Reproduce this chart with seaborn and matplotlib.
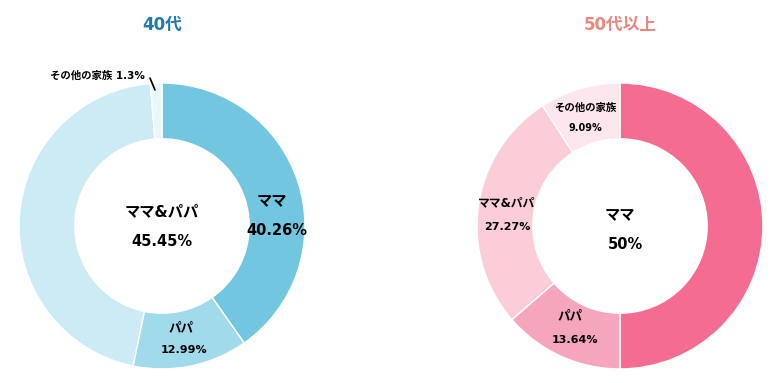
import seaborn as sns
import matplotlib.pyplot as plt

sns.set_theme(style='white')
# DejaVu para números (parecido com Verdana/Meiryo), Noto CJK para japonês
plt.rcParams['font.family'] = ['DejaVu Sans', 'Noto Sans CJK JP']

# Dados
categorias = ['ママ', 'パパ', 'ママ&パパ', 'その他の家族']
valores_40 = [40.26, 12.99, 45.45, 1.3]
valores_50 = [50, 13.64, 27.27, 9.09]
rotulos_40 = ['40.26%', '12.99%', '45.45%', '1.3%']
rotulos_50 = ['50%', '13.64%', '27.27%', '9.09%']
titulos = ['40代', '50代以上']

cores_40 = ['#72c6e0', '#a1daea', '#cdebf4', '#e9f6fa']
cores_50 = ['#f46c92', '#f6a6bc', '#facdd9', '#fde6ed']
cor_titulo = ['#1d7bad', '#ea8880']

fig = plt.figure(figsize=(7.77, 3.83), dpi=100)
ax1 = fig.add_axes([0.0245, 0.0366, 0.368, 0.7467])
ax2 = fig.add_axes([0.6139, 0.0366, 0.368, 0.7467])

for ax, valores, cores in [(ax1, valores_40, cores_40), (ax2, valores_50, cores_50)]:
    ax.pie(valores, colors=cores, startangle=90, counterclock=False,
           wedgeprops=dict(width=0.39, edgecolor='white', linewidth=1))
    ax.set_xlim(-1, 1)
    ax.set_ylim(-1, 1)
    ax.set_aspect('equal')
    ax.axis('off')

# Títulos
fig.text(162 / 777, 1 - 25 / 383, titulos[0], color=cor_titulo[0], fontsize=12,
         fontweight='bold', ha='center', va='center')
fig.text(620 / 777, 1 - 25 / 383, titulos[1], color=cor_titulo[1], fontsize=12,
         fontweight='bold', ha='center', va='center')

# Rótulos - 40代
t = dict(ha='center', va='center', fontweight='bold', color='black')
ax1.text(0.77, 0.18, categorias[0], fontsize=11, **t)
ax1.text(0.80, -0.035, rotulos_40[0], fontsize=10.5, **t)
ax1.text(0.13, -0.71, categorias[1], fontsize=9, **t)
ax1.text(0.155, -0.865, rotulos_40[1], fontsize=8, **t)
ax1.text(0.0, 0.10, categorias[2], fontsize=11, **t)
ax1.text(0.0, -0.11, rotulos_40[2], fontsize=10.5, **t)
ax1.text(-0.455, 1.05, categorias[3] + ' ' + rotulos_40[3], fontsize=7.5, **t)
ax1.plot([-0.084, -0.049], [1.035, 0.951], color='black', lw=1.2, clip_on=False)

# Rótulos - 50代以上
ax2.text(0.0, 0.08, categorias[0], fontsize=11, **t)
ax2.text(0.035, -0.13, rotulos_50[0], fontsize=10.5, **t)
ax2.text(-0.35, -0.63, categorias[1], fontsize=9, **t)
ax2.text(-0.315, -0.80, rotulos_50[1], fontsize=8, **t)
ax2.text(-0.79, 0.16, categorias[2], fontsize=8.5, **t)
ax2.text(-0.79, -0.005, rotulos_50[2], fontsize=8, **t)
ax2.text(-0.245, 0.825, categorias[3], fontsize=7.5, **t)
ax2.text(-0.245, 0.685, rotulos_50[3], fontsize=7, **t)

plt.savefig('out.png', dpi=100, facecolor='white')
